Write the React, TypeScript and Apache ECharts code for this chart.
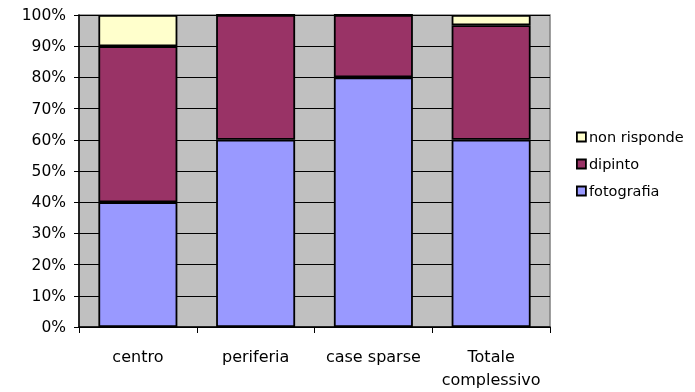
import React, { useEffect, useRef } from "react";
import * as echarts from "echarts";

const categories = ["centro", "periferia", "case sparse", "Totale\ncomplessivo"];
const fotografia = [40, 60, 80, 60];
const dipinto = [50, 40, 20, 36.7];
const nonRisponde = [10, 0, 0, 3.3];
const yTicks = [0, 10, 20, 30, 40, 50, 60, 70, 80, 90, 100];

export default function App() {
  const ref = useRef<HTMLDivElement>(null);
  useEffect(() => {
    const chart = echarts.init(ref.current!, null, { renderer: "svg" });
    const font = "'DejaVu Sans', sans-serif";
    const barStyle = (color: string) => ({ color, borderColor: "#000", borderWidth: 1.8 });
    chart.setOption({
      animation: false,
      textStyle: { fontFamily: font },
      grid: {
        left: 79, top: 15, width: 471, height: 312,
        show: true, backgroundColor: "#C0C0C0", borderColor: "#808080", borderWidth: 1.5,
      },
      legend: {
        orient: "vertical", left: 576, top: 129, padding: 0, itemWidth: 9, itemHeight: 9, itemGap: 11,
        icon: "rect",
        itemStyle: { borderColor: "#000", borderWidth: 1.8 },
        textStyle: { fontFamily: font, fontSize: 14.5, lineHeight: 16, color: "#000", padding: [0, 0, 0, -2] },
        data: ["non risponde", "dipinto", "fotografia"],
      },
      xAxis: {
        type: "category", data: categories,
        axisLine: { lineStyle: { color: "#000", width: 1.5 } },
        axisTick: { show: true, length: 6, interval: 0, lineStyle: { color: "#000" } },
        axisLabel: { color: "#000", fontSize: 16, margin: 18, lineHeight: 23, interval: 0, hideOverlap: false, fontFamily: font },
      },
      yAxis: {
        type: "value", min: 0, max: 100, interval: 10,
        axisLine: { show: true, lineStyle: { color: "#000", width: 1.5 } },
        axisTick: { show: true, length: 5, lineStyle: { color: "#000" } },
        splitLine: { show: true, lineStyle: { color: "#000", width: 1 } },
        axisLabel: {
          color: "#000", fontSize: 15.5, margin: 13, fontFamily: font,
          formatter: (v: number) => (yTicks.includes(v) ? v + "%" : ""),
        },
      },
      series: [
        { name: "fotografia", type: "bar", stack: "a", data: fotografia, barWidth: 79, itemStyle: barStyle("#9999FF") },
        { name: "dipinto", type: "bar", stack: "a", data: dipinto, barWidth: 79, itemStyle: barStyle("#993366") },
        { name: "non risponde", type: "bar", stack: "a", data: nonRisponde, barWidth: 79, itemStyle: barStyle("#FFFFCC") },
      ],
    });
    return () => chart.dispose();
  }, []);
  return <div ref={ref} style={{ position: "fixed", left: 0, top: 0, width: 695, height: 392 }} />;
}
